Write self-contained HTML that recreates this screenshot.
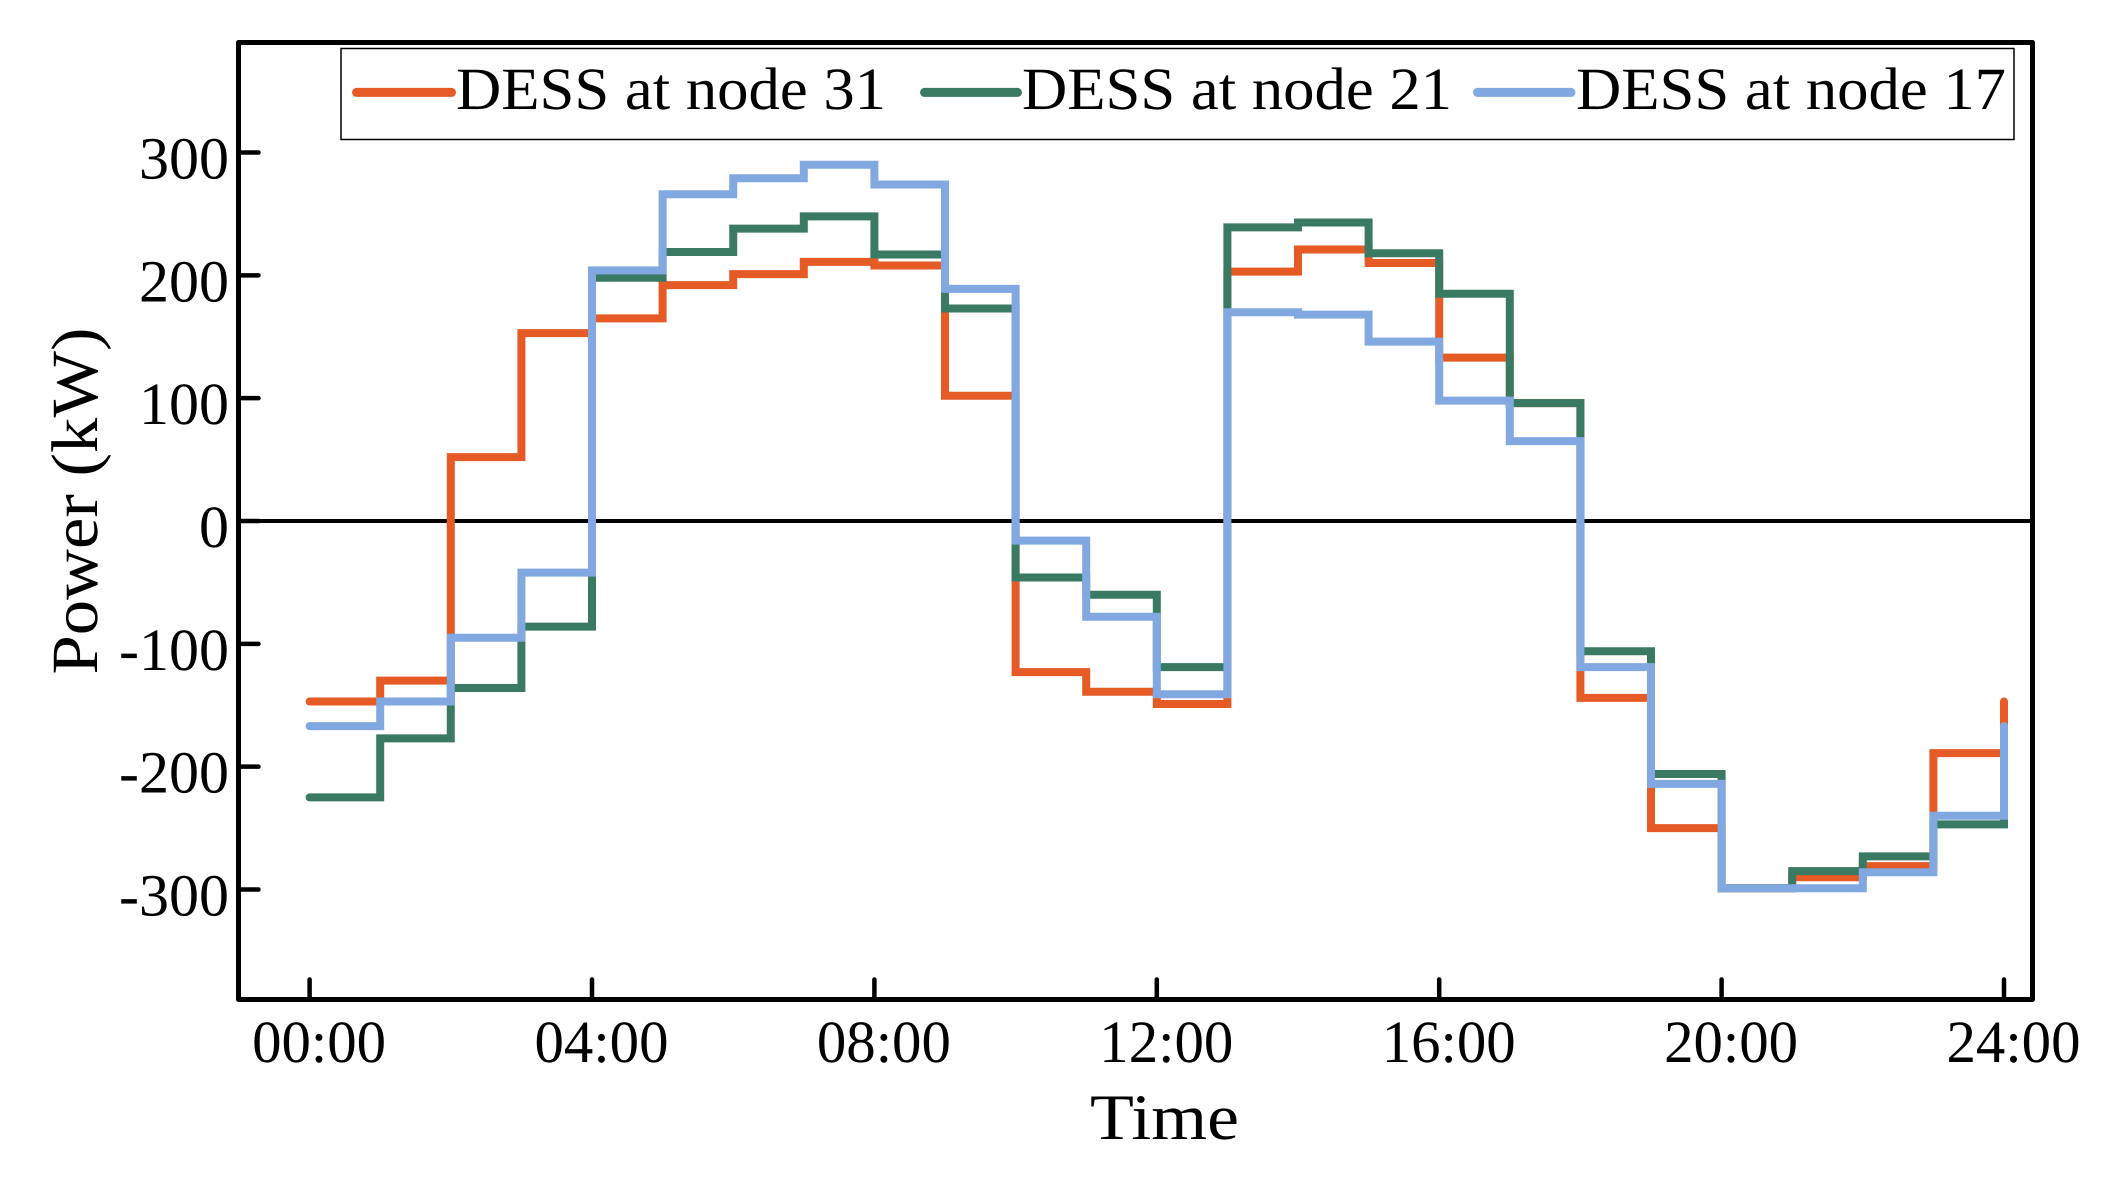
<!DOCTYPE html>
<html lang="en">
<head>
<meta charset="utf-8">
<title>DESS Power Chart</title>
<style>
  html, body { margin: 0; padding: 0; background: #ffffff; }
  svg { display: block; }
  text { font-family: "Liberation Serif", "Times New Roman", serif; fill: #000; text-rendering: geometricPrecision; }
</style>
</head>
<body>
<svg id="chart" xmlns="http://www.w3.org/2000/svg" width="2106" height="1184" viewBox="0 0 2106 1184">
  <rect x="0" y="0" width="2106" height="1184" fill="#ffffff"/>
  <g id="ticks"></g>
  <g id="ticklabels"></g>
  <line x1="238.5" x2="2032.5" y1="521" y2="521" stroke="#000" stroke-width="4"/>
  <g id="series"></g>
  <rect x="238.5" y="42.5" width="1794" height="957" fill="none" stroke="#000" stroke-width="5" stroke-linejoin="round"/>
  <g>
    <rect x="341" y="48.5" width="1673" height="91" fill="#fff" stroke="#000" stroke-width="1.5"/>
    <line x1="356.5" x2="451.5" y1="92.4" y2="92.4" stroke="#e55a25" stroke-width="9" stroke-linecap="round"/>
    <text x="456" y="109" font-size="60" textLength="430" lengthAdjust="spacingAndGlyphs">DESS at node 31</text>
    <line x1="924.5" x2="1017.5" y1="92.4" y2="92.4" stroke="#3a7a63" stroke-width="9" stroke-linecap="round"/>
    <text x="1022" y="109" font-size="60" textLength="430" lengthAdjust="spacingAndGlyphs">DESS at node 21</text>
    <line x1="1477.5" x2="1571" y1="92.4" y2="92.4" stroke="#82a8e2" stroke-width="9" stroke-linecap="round"/>
    <text x="1576" y="109" font-size="60" textLength="430" lengthAdjust="spacingAndGlyphs">DESS at node 17</text>
  </g>
  <text x="1090" y="1139" font-size="65" textLength="149" lengthAdjust="spacingAndGlyphs">Time</text>
  <text transform="translate(97 674.5) rotate(-90)" x="0" y="0" font-size="66" textLength="347" lengthAdjust="spacingAndGlyphs">Power (kW)</text>
</svg>
<script>
// Chart data (kW per hourly step; the final entry closes the 24:00 edge)
const node31Values = [-147, -130, 52, 153, 165, 192, 201, 211, 208, 102, -123, -139, -149, 203, 221, 210, 133, 96, -144, -250, -299, -290, -281, -189, -147];
const node21Values = [-225, -177, -136, -86, 198, 219, 238, 248, 217, 173, -46, -60, -119, 239, 243, 218, 185, 96, -106, -206, -299, -285, -273, -247, -225];
const node17Values = [-167, -147, -95, -42, 204, 266, 279, 290, 274, 189, -16, -78, -141, 170, 168, 146, 98, 65, -119, -214, -299, -299, -286, -240, -167];
const xTickHours = [0, 4, 8, 12, 16, 20, 24];
const xTickLabels = ["00:00", "04:00", "08:00", "12:00", "16:00", "20:00", "24:00"];
const yTickValues = [300, 200, 100, 0, -100, -200, -300];
const yTickLabels = ["300", "200", "100", "0", "-100", "-200", "-300"];

const NS = "http://www.w3.org/2000/svg";
function xScale(hour) { return 309.6 + 70.6 * hour; }
function yScale(kw) { return 521 - 1.2283 * kw; }

function drawSeries(values, color, name) {
  let d = "M" + xScale(0) + " " + yScale(values[0]);
  for (let i = 1; i < values.length; i++) {
    d += " H" + xScale(i) + " V" + yScale(values[i]);
  }
  const path = document.createElementNS(NS, "path");
  path.setAttribute("d", d);
  path.setAttribute("fill", "none");
  path.setAttribute("stroke", color);
  path.setAttribute("stroke-width", "8");
  path.setAttribute("stroke-linejoin", "miter");
  path.setAttribute("stroke-linecap", "round");
  
  
  document.getElementById("series").appendChild(path);
}
drawSeries(node31Values, "#e55a25", "series-node-31");
drawSeries(node21Values, "#3a7a63", "series-node-21");
drawSeries(node17Values, "#82a8e2", "series-node-17");

const tickGroup = document.getElementById("ticks");
const labelGroup = document.getElementById("ticklabels");

xTickHours.forEach(function (hour, i) {
  const tick = document.createElementNS(NS, "line");
  tick.setAttribute("x1", xScale(hour));
  tick.setAttribute("x2", xScale(hour));
  tick.setAttribute("y1", 979.5);
  tick.setAttribute("y2", 999);
  tick.setAttribute("stroke", "#000");
  tick.setAttribute("stroke-width", "4.5");
  tick.setAttribute("stroke-linecap", "round");
  
  
  tickGroup.appendChild(tick);

  const label = document.createElementNS(NS, "text");
  label.setAttribute("x", xScale(hour) + 9.5);
  label.setAttribute("y", 1062);
  label.setAttribute("font-size", "60");
  label.setAttribute("text-anchor", "middle");
  label.setAttribute("textLength", "134");
  label.setAttribute("lengthAdjust", "spacingAndGlyphs");
  
  
  label.textContent = xTickLabels[i];
  labelGroup.appendChild(label);
});

yTickValues.forEach(function (value, i) {
  const tick = document.createElementNS(NS, "line");
  tick.setAttribute("x1", 239);
  tick.setAttribute("x2", 258.5);
  tick.setAttribute("y1", yScale(value));
  tick.setAttribute("y2", yScale(value));
  tick.setAttribute("stroke", "#000");
  tick.setAttribute("stroke-width", "4.5");
  tick.setAttribute("stroke-linecap", "round");
  
  
  tickGroup.appendChild(tick);

  const label = document.createElementNS(NS, "text");
  label.setAttribute("x", 229);
  label.setAttribute("y", yScale(value) + 26);
  label.setAttribute("font-size", "60");
  label.setAttribute("text-anchor", "end");
  
  
  label.textContent = yTickLabels[i];
  labelGroup.appendChild(label);
});
</script>
</body>
</html>
